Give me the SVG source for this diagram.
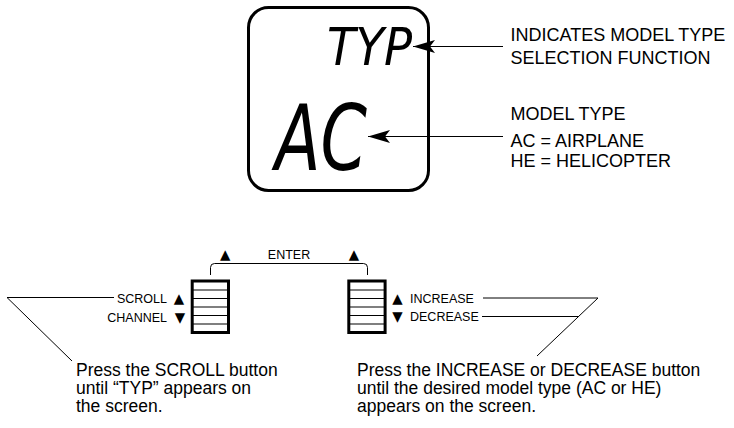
<svg xmlns="http://www.w3.org/2000/svg" width="734" height="428" viewBox="0 0 734 428">
<defs>
<style>
.t{font-family:"Liberation Sans",Arial,sans-serif;fill:#000}
.big{font-size:17.5px}
.lbl{font-size:18px}
.sm{font-size:12.5px}
.tri{font-family:"DejaVu Sans",sans-serif;font-size:13.5px;fill:#000;text-anchor:middle}
.lcd{font-family:"Liberation Sans Narrow","DejaVu Sans Condensed","Liberation Sans",sans-serif;font-style:italic;fill:#000}
.ln{fill:none;stroke:#000;stroke-width:1}
.btn{fill:#fff;stroke:#000;stroke-width:3}
.row{stroke:#000;stroke-width:1.2}
</style>
<marker id="ah" viewBox="0 0 22 13" refX="22" refY="6.5" markerWidth="22" markerHeight="13" markerUnits="userSpaceOnUse" orient="auto">
<path d="M0,0 L22,6.5 L0,13 L5,6.5 Z" fill="#000"/>
</marker>
</defs>
<rect width="734" height="428" fill="#fff"/>

<g id="lcd">
<rect x="248.5" y="7.5" width="180" height="183" rx="20" ry="20" fill="none" stroke="#000" stroke-width="3"/>
<text class="lcd" x="327" y="65" font-size="52" textLength="85" lengthAdjust="spacingAndGlyphs">TYP</text>
<text class="lcd" x="275" y="170" font-size="91" textLength="92" lengthAdjust="spacingAndGlyphs">AC</text>
</g>

<g id="label-typ">
<text class="t lbl" x="510.5" y="41">INDICATES MODEL TYPE</text>
<text class="t lbl" x="510.5" y="63.5">SELECTION FUNCTION</text>
</g>

<g id="label-model">
<text class="t lbl" x="510.5" y="120">MODEL TYPE</text>
<text class="t lbl" x="510.5" y="146.5">AC = AIRPLANE</text>
<text class="t lbl" x="510.5" y="166.5">HE = HELICOPTER</text>
</g>

<g id="enter">
<path class="ln" d="M210.5,275 V267.5 Q210.5,263.5 214.5,263.5 H363.5 Q367.5,263.5 367.5,267.5 V275" stroke-width="1.2"/>
<text class="tri" x="225.3" y="258.5">▲</text>
<text class="tri" x="354" y="258.5">▲</text>
<text class="t sm" x="289" y="258.5" text-anchor="middle">ENTER</text>
</g>

<g id="btn-scroll">
<rect class="btn" x="192.2" y="281" width="36.3" height="51.5"/>
<line class="row" x1="192.2" y1="290" x2="228.5" y2="290"/>
<line class="row" x1="192.2" y1="298.5" x2="228.5" y2="298.5"/>
<line class="row" x1="192.2" y1="307" x2="228.5" y2="307"/>
<line class="row" x1="192.2" y1="315.5" x2="228.5" y2="315.5"/>
<line class="row" x1="192.2" y1="324" x2="228.5" y2="324"/>
<text class="t sm" x="167" y="302.5" text-anchor="end">SCROLL</text>
<text class="tri" x="179" y="302.5">▲</text>
<text class="t sm" x="167" y="321.5" text-anchor="end">CHANNEL</text>
<text class="tri" x="180" y="321.5">▼</text>
</g>

<g id="btn-inc">
<rect class="btn" x="348.8" y="281" width="36.3" height="51.5"/>
<line class="row" x1="348.8" y1="290" x2="385.1" y2="290"/>
<line class="row" x1="348.8" y1="298.5" x2="385.1" y2="298.5"/>
<line class="row" x1="348.8" y1="307" x2="385.1" y2="307"/>
<line class="row" x1="348.8" y1="315.5" x2="385.1" y2="315.5"/>
<line class="row" x1="348.8" y1="324" x2="385.1" y2="324"/>
<text class="tri" x="397.5" y="302.5">▲</text>
<text class="t sm" x="410" y="302.5">INCREASE</text>
<text class="tri" x="397.5" y="321">▼</text>
<text class="t sm" x="410" y="321">DECREASE</text>
</g>

<g id="note-scroll">
<text class="t big" x="76" y="375.5">Press the SCROLL button</text>
<text class="t big" x="76" y="393.5">until “TYP” appears on</text>
<text class="t big" x="76" y="411.5">the screen.</text>
</g>

<g id="note-inc">
<text class="t big" x="357" y="375.5">Press the INCREASE or DECREASE button</text>
<text class="t big" x="357" y="393.5">until the desired model type (AC or HE)</text>
<text class="t big" x="357" y="411.5">appears on the screen.</text>
</g>

<g id="connectors">
<line class="ln" x1="503" y1="46.5" x2="413" y2="46.5" marker-end="url(#ah)"/>
<line class="ln" x1="503" y1="136.5" x2="368" y2="136.5" marker-end="url(#ah)"/>
<polyline class="ln" points="114,297.5 7,297.5 72,361"/>
<polyline class="ln" points="483,298 598,298 537,356"/>
<line class="ln" x1="482" y1="316.5" x2="578.5" y2="316.5"/>
</g>
</svg>
